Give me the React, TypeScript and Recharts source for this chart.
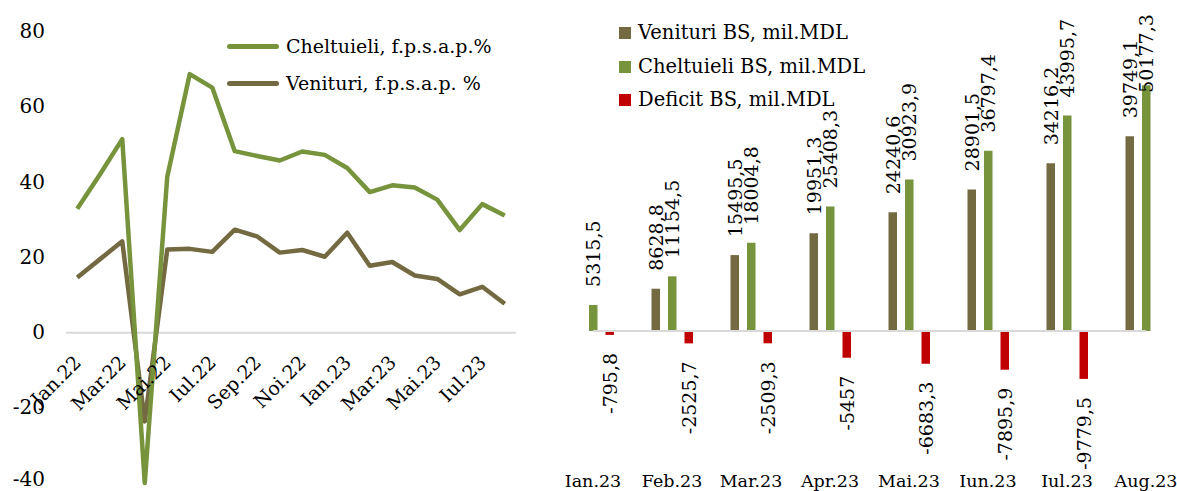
import React from 'react';
import {
  ComposedChart,
  Line,
  Bar,
  XAxis,
  YAxis,
  ReferenceLine,
  LabelList,
} from 'recharts';

// ---------- data: left chart ----------
const months = [
  'Jan.22', 'Feb.22', 'Mar.22', 'Apr.22', 'Mai.22', 'Iun.22', 'Iul.22', 'Aug.22',
  'Sep.22', 'Oct.22', 'Noi.22', 'Dec.22', 'Ian.23', 'Feb.23', 'Mar.23', 'Apr.23',
  'Mai.23', 'Iun.23', 'Iul.23', 'Aug.23',
];
const cheltuieliPct = [
  33, 42, 51.5, -40, 41.5, 68.8, 65.2, 48.3, 47, 45.8, 48.2, 47.3, 43.8, 37.4, 39.2,
  38.6, 35.4, 27.3, 34.2, 31.2,
];
const venituriPct = [
  14.7, 19.5, 24.3, -23.6, 22.1, 22.3, 21.5, 27.4, 25.6, 21.3, 22.0, 20.2, 26.6,
  17.8, 18.8, 15.2, 14.3, 10.2, 12.2, 7.7,
];
const leftTicks = [-40, -20, 0, 20, 40, 60, 80];

// ---------- data: right chart ----------
const barMonths = ['Ian.23', 'Feb.23', 'Mar.23', 'Apr.23', 'Mai.23', 'Iun.23', 'Iul.23', 'Aug.23'];
const venituriBS: (number | null)[] = [null, 8628.8, 15495.5, 19951.3, 24240.6, 28901.5, 34216.2, 39749.1];
const cheltuieliBS: (number | null)[] = [5315.5, 11154.5, 18004.8, 25408.3, 30923.9, 36797.4, 43995.7, 50177.3];
const deficitBS: (number | null)[] = [-795.8, -2525.7, -2509.3, -5457, -6683.3, -7895.9, -9779.5, null];

const lineData = months.map((m, i) => ({ m, chelt: cheltuieliPct[i], ven: venituriPct[i] }));
const barData = barMonths.map((m, i) => ({
  m,
  ven: venituriBS[i],
  chelt: cheltuieliBS[i],
  def: deficitBS[i],
}));

// ---------- styles ----------
const FONT = '"DejaVu Serif", serif';
const GREEN = '#77933C';
const BROWN = '#736A42';
const RED = '#C00000';
const GRID = '#D9D9D9';

// left chart geometry
const L_W = 560;
const L_H = 491;
const L_TOP = 32;
const L_XAXIS_H = 8;
const L_PLOT_H = L_H - L_TOP - L_XAXIS_H;
const L_MIN = -40;
const L_MAX = 80;
const zeroShift = (L_PLOT_H * (0 - L_MIN)) / (L_MAX - L_MIN);
const Y_LABEL_MAX_BASELINE = L_H - 5;

const LeftTick = (props: any) => {
  const { x, y, payload } = props;
  return (
    <text
      transform={`translate(${x + 5},${y - zeroShift + 31}) rotate(-45)`}
      textAnchor="end"
      fontFamily={FONT}
      fontSize={19}
      fill="#000"
    >
      {payload.value}
    </text>
  );
};

const LeftYTick = (props: any) => {
  const { x, y, payload } = props;
  const baseline = Math.min(Number(y) + 6.2, Y_LABEL_MAX_BASELINE);
  return (
    <text x={x} y={baseline} textAnchor="end" fontFamily={FONT} fontSize={20} fill="#000">
      {payload.value}
    </text>
  );
};

// right chart geometry
const R_TOP = 37;
const LABEL_FS = 19;
const LABEL_GAP = 18;
const LABEL_TOP_LIMIT = 14;
const LABEL_BOTTOM_LIMIT = 470;

const fmt = (v: number) => String(v).replace('.', ',');
const textLen = (s: string) =>
  s.split('').reduce((acc, ch) => acc + (/[0-9]/.test(ch) ? 0.636 : 0.33) * LABEL_FS, 0);

const BarLabel = (props: any) => {
  const { x, y, width, height, value } = props;
  if (value === null || value === undefined) return null;
  const cx = Number(x) + Number(width) / 2;
  const top = Math.min(Number(y), Number(y) + Number(height));
  const bottom = Math.max(Number(y), Number(y) + Number(height));
  const text = fmt(value);
  const len = textLen(text);
  if (value >= 0) {
    let base = top - LABEL_GAP;
    if (base - len < LABEL_TOP_LIMIT) base = LABEL_TOP_LIMIT + len;
    return (
      <text
        transform={`translate(${cx + 7},${base}) rotate(-90)`}
        textAnchor="start"
        fontFamily={FONT}
        fontSize={LABEL_FS}
        fill="#000"
      >
        {text}
      </text>
    );
  }
  let end = bottom + LABEL_GAP;
  if (end + len > LABEL_BOTTOM_LIMIT) end = LABEL_BOTTOM_LIMIT - len;
  return (
    <text
      transform={`translate(${cx + 7},${end}) rotate(-90)`}
      textAnchor="end"
      fontFamily={FONT}
      fontSize={LABEL_FS}
      fill="#000"
    >
      {text}
    </text>
  );
};

const legendText: React.CSSProperties = {
  position: 'absolute',
  height: 24,
  lineHeight: '24px',
  fontFamily: FONT,
  fontSize: 19,
  color: '#000',
  whiteSpace: 'nowrap',
};

export default function App() {
  return (
    <div
      style={{
        position: 'absolute',
        left: 0,
        top: 0,
        width: 1177,
        height: 491,
        overflow: 'hidden',
        background: '#fff',
      }}
    >
      {/* Left line chart */}
      <div style={{ position: 'absolute', left: 0, top: 0 }}>
        <ComposedChart
          width={L_W}
          height={L_H}
          data={lineData}
          margin={{ top: L_TOP, right: 44, left: 0, bottom: 0 }}
        >
          <XAxis
            dataKey="m"
            interval={1}
            axisLine={false}
            tickLine={false}
            tickSize={0}
            tickMargin={0}
            height={L_XAXIS_H}
            padding={{ left: 11.25, right: 11.25 }}
            tick={<LeftTick />}
          />
          <YAxis
            domain={[L_MIN, L_MAX]}
            ticks={leftTicks}
            interval={0}
            width={66}
            axisLine={false}
            tickLine={false}
            tickMargin={15}
            tick={<LeftYTick />}
          />
          <ReferenceLine y={0} stroke={GRID} strokeWidth={2} />
          <Line
            type="linear"
            dataKey="ven"
            stroke={BROWN}
            strokeWidth={4.5}
            dot={false}
            strokeLinejoin="round"
            isAnimationActive={false}
          />
          <Line
            type="linear"
            dataKey="chelt"
            stroke={GREEN}
            strokeWidth={4.5}
            dot={false}
            strokeLinejoin="round"
            isAnimationActive={false}
          />
        </ComposedChart>
      </div>

      {/* Left legend */}
      <div style={{ position: 'absolute', left: 227, top: 44, width: 52, height: 5, background: GREEN, borderRadius: 3 }} />
      <div style={{ ...legendText, left: 286, top: 34 }}>Cheltuieli, f.p.s.a.p.%</div>
      <div style={{ position: 'absolute', left: 227, top: 81, width: 52, height: 5, background: BROWN, borderRadius: 3 }} />
      <div style={{ ...legendText, left: 286, top: 71 }}>Venituri, f.p.s.a.p. %</div>

      {/* Right bar chart */}
      <div style={{ position: 'absolute', left: 540, top: 0 }}>
        <ComposedChart
          width={660}
          height={491}
          data={barData}
          margin={{ top: R_TOP, right: 14.5, left: 13.5, bottom: 0 }}
          barGap={8}
        >
          <XAxis
            dataKey="m"
            axisLine={false}
            tickLine={false}
            height={62}
            tickMargin={40}
            interval={0}
            tick={{ fill: '#000', fontSize: 17.5, fontFamily: FONT }}
          />
          <YAxis hide domain={[-20000, 60000]} />
          <ReferenceLine
            segment={[
              { x: barMonths[0], y: 0 },
              { x: barMonths[barMonths.length - 1], y: 0 },
            ]}
            stroke={GRID}
            strokeWidth={2}
          />
          <Bar dataKey="ven" fill={BROWN} barSize={8.5} isAnimationActive={false}>
            <LabelList dataKey="ven" content={<BarLabel />} />
          </Bar>
          <Bar dataKey="chelt" fill={GREEN} barSize={8.5} isAnimationActive={false}>
            <LabelList dataKey="chelt" content={<BarLabel />} />
          </Bar>
          <Bar dataKey="def" fill={RED} barSize={8.5} isAnimationActive={false}>
            <LabelList dataKey="def" content={<BarLabel />} />
          </Bar>
        </ComposedChart>
      </div>

      {/* Right legend */}
      <div style={{ position: 'absolute', left: 619, top: 27, width: 12, height: 12, background: BROWN }} />
      <div style={{ ...legendText, left: 638, top: 21, fontSize: 19.5 }}>Venituri BS, mil.MDL</div>
      <div style={{ position: 'absolute', left: 619, top: 61, width: 12, height: 12, background: GREEN }} />
      <div style={{ ...legendText, left: 638, top: 55, fontSize: 19.5 }}>Cheltuieli BS, mil.MDL</div>
      <div style={{ position: 'absolute', left: 619, top: 94, width: 12, height: 12, background: RED }} />
      <div style={{ ...legendText, left: 638, top: 88, fontSize: 19.5 }}>Deficit BS, mil.MDL</div>
    </div>
  );
}
